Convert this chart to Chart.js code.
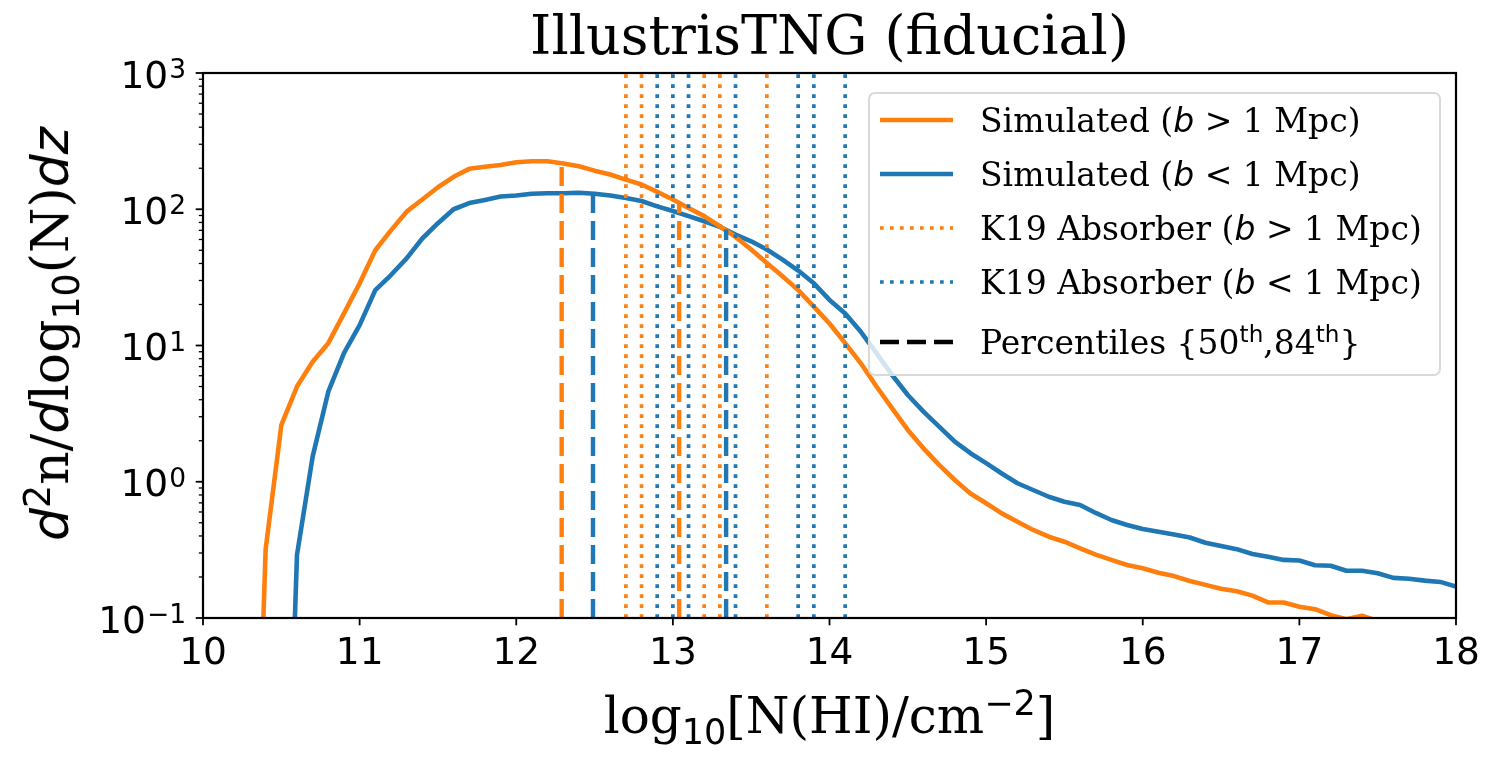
<!DOCTYPE html>
<html>
<head>
<meta charset="utf-8">
<script src="https://cdn.jsdelivr.net/npm/chart.js@4.4.1/dist/chart.umd.min.js"></script>
<style>
html,body{margin:0;padding:0;background:#fff;}
#wrap{position:relative;width:1502px;height:765px;font-family:'DejaVu Serif',serif;color:#000;overflow:hidden;}
#c{position:absolute;left:0;top:0;}
.title{position:absolute;left:203px;width:1253px;top:4px;text-align:center;font-size:54px;line-height:64px;white-space:nowrap;}
.xlab{position:absolute;left:203px;width:1253px;top:686px;text-align:center;font-size:50px;line-height:60px;white-space:nowrap;}
.ylab{position:absolute;left:50px;top:334px;transform:translate(-50%,-50%) rotate(-90deg);white-space:nowrap;font-size:52px;line-height:60px;}
.legend{position:absolute;left:868px;top:92px;width:573px;height:284px;border:2px solid #d9d9d9;border-radius:7px;background:rgba(255,255,255,0.8);box-sizing:border-box;}
.row{position:absolute;left:0;height:44px;display:flex;align-items:center;font-size:33px;white-space:nowrap;}
.row svg{margin-left:10px;margin-right:27px;flex:none;}
.m{font-family:'DejaVu Sans',sans-serif;}
sub,sup{font-size:70%;line-height:0;}
</style>
</head>
<body>
<div id="wrap">
<canvas id="c" width="1502" height="765"></canvas>
<div class="title">IllustrisTNG (fiducial)</div>
<div class="xlab">log<sub class="m">10</sub>[N(HI)/cm<sup class="m">−2</sup>]</div>
<div class="ylab"><i class="m">d</i><sup class="m">2</sup>n/<i class="m">d</i>log<sub class="m">10</sub>(N)<i class="m">dz</i></div>
<div class="legend" id="legend"></div>
</div>
<script>
// ---- data ----
const xGrid = [10.3,10.4,10.5,10.6,10.7,10.8,10.9,11.0,11.1,11.2,11.3,11.4,11.5,11.6,11.7,11.8,11.9,
  12.0,12.1,12.2,12.3,12.4,12.5,12.6,12.7,12.8,12.9,13.0,13.1,13.2,13.3,13.4,13.5,13.6,13.7,13.8,13.9,
  14.0,14.1,14.2,14.3,14.4,14.5,14.6,14.7,14.8,14.9,15.0,15.1,15.2,15.3,15.4,15.5,15.6,15.7,15.8,15.9,
  16.0,16.1,16.2,16.3,16.4,16.5,16.6,16.7,16.8,16.9,17.0,17.1,17.2,17.3,17.4,17.5,17.6,17.7,17.8,17.9,18.0];

// Simulated (b > 1 Mpc)
const simFar = [1e-4,0.32,2.6,5.0,7.6,10.4,17.2,28.6,50,70,96,118,145,173,198,205,211,
  221,225,225,217,207,192,180,165,152,134,118,102,89,75,62.6,50.6,40.4,32.2,25.5,19.3,
  14.5,10.4,7.4,5.0,3.46,2.4,1.76,1.33,1.03,0.82,0.695,0.586,0.509,0.443,0.395,0.363,0.325,0.292,0.267,0.245,
  0.232,0.215,0.203,0.187,0.175,0.164,0.157,0.146,0.13,0.13,0.121,0.116,0.105,0.098,0.104,0.095,0.092,0.09,0.087,0.085,0.083];

// Simulated (b < 1 Mpc)
const simNear = [null,null,1e-4,0.29,1.53,4.58,8.8,14.1,25.5,32.9,43.6,61,79,100,111,117,124,
  126,130,131,131,132,130,126,121,115,105,97,89,81.6,74.3,65.2,58.2,50.6,42.7,35.5,28.6,
  21.6,17.2,12.6,8.8,6.07,4.33,3.27,2.54,1.97,1.62,1.37,1.15,0.975,0.87,0.776,0.714,0.675,0.59,0.524,0.482,
  0.45,0.43,0.41,0.39,0.357,0.338,0.32,0.295,0.282,0.267,0.264,0.244,0.242,0.222,0.222,0.213,0.197,0.194,0.188,0.184,0.17];

// K19 absorbers (log10 N)
const k19Far = [12.7,12.8,13.2,13.3,13.6];
const k19Near = [12.9,13.0,13.1,13.4,13.8,13.9,14.1];

// Percentiles {50th, 84th}: positions and heights (curve value there)
const pctFarX = [12.29,13.04];
const pctFarY = [218,112];
const pctNearX = [12.49,13.34];
const pctNearY = [131,71];

const xTicks = [10,11,12,13,14,15,16,17,18];
const yMajor = [0.1,1,10,100,1000];
const yTickBase = '10';
const yTickExp = ['−1','0','1','2','3'];

const ORANGE = '#ff7f0e', BLUE = '#1f77b4';
const yMin = 0.1, yMax = 1000;
const TICK_FONT = 'DejaVu Sans';

// ---- build ----
const yTicksAll = [];
yMajor.forEach((m,i)=>{
  yTicksAll.push(m);
  if (i < yMajor.length-1) for (let k=2;k<=9;k++) yTicksAll.push(m*k);
});

function vline(x, top, color, dash, width){
  return {data:[{x:x,y:yMin},{x:x,y:top}], borderColor:color, borderWidth:width, borderDash:dash,
    pointRadius:0, clip:0, order:1, borderCapStyle:'butt', fill:false};
}
function curve(vals, color){
  return {data:xGrid.map((x,i)=>({x:x,y:vals[i]})), borderColor:color, borderWidth:4.6, pointRadius:0,
    tension:0, clip:0, order:2, spanGaps:false, fill:false, borderJoinStyle:'round'};
}

const datasets = [curve(simFar, ORANGE), curve(simNear, BLUE)];
k19Far.forEach(x=>datasets.push(vline(x, yMax, ORANGE, [3.7,6.3], 3.7)));
k19Near.forEach(x=>datasets.push(vline(x, yMax, BLUE, [3.7,6.3], 3.7)));
pctFarX.forEach((x,i)=>datasets.push(vline(x, pctFarY[i], ORANGE, [19,8], 4.4)));
pctNearX.forEach((x,i)=>datasets.push(vline(x, pctNearY[i], BLUE, [19,8], 4.4)));

const frameTicks = {
  id:'frameTicks',
  afterDraw(chart){
    const {ctx, chartArea:a, scales:{x, y}} = chart;
    ctx.save();
    ctx.strokeStyle = '#000';
    ctx.lineCap = 'butt';
    ctx.lineWidth = 1.8;
    xTicks.forEach(v=>{
      const px = x.getPixelForValue(v);
      ctx.beginPath(); ctx.moveTo(px, a.bottom); ctx.lineTo(px, a.bottom+7.3); ctx.stroke();
    });
    yTicksAll.forEach(v=>{
      const py = y.getPixelForValue(v);
      const major = yMajor.includes(v);
      ctx.lineWidth = major ? 1.8 : 1.3;
      ctx.beginPath(); ctx.moveTo(a.left, py); ctx.lineTo(a.left-(major?7.3:4.2), py); ctx.stroke();
    });
    ctx.lineWidth = 2.2;
    ctx.strokeRect(a.left, a.top, a.right-a.left, a.bottom-a.top);
    // y tick labels: 10 with raised exponent
    ctx.fillStyle = '#000';
    ctx.textBaseline = 'alphabetic';
    ctx.textAlign = 'left';
    yMajor.forEach((v,i)=>{
      const py = y.getPixelForValue(v);
      ctx.font = '37.5px "'+TICK_FONT+'"';
      const wb = ctx.measureText(yTickBase).width;
      ctx.font = '26.5px "'+TICK_FONT+'"';
      const we = ctx.measureText(yTickExp[i]).width;
      const right = a.left - 18;
      const x0 = right - wb - we;
      ctx.font = '37.5px "'+TICK_FONT+'"';
      ctx.fillText(yTickBase, x0, py + 14.5);
      ctx.font = '26.5px "'+TICK_FONT+'"';
      ctx.fillText(yTickExp[i], x0 + wb + 1, py + 5);
    });
    ctx.restore();
  }
};

new Chart(document.getElementById('c'), {
  type:'line',
  data:{datasets:datasets},
  options:{
    responsive:false, animation:false, devicePixelRatio:1,
    layout:{padding:{left:0, top:73, right:46, bottom:0}},
    plugins:{legend:{display:false}, title:{display:false}, tooltip:{enabled:false}},
    scales:{
      x:{type:'linear', min:10, max:18,
        afterBuildTicks:s=>{ s.ticks = xTicks.map(v=>({value:v})); },
        afterFit:s=>{ s.height = 147; },
        grid:{display:false, drawTicks:false}, border:{display:false},
        ticks:{padding:14, color:'#000', autoSkip:false, maxRotation:0,
          font:{family:TICK_FONT, size:37.5}, callback:v=>String(v)}},
      y:{type:'logarithmic', min:yMin, max:yMax,
        afterBuildTicks:s=>{ s.ticks = yTicksAll.map(v=>({value:v})); },
        afterFit:s=>{ s.width = 203; },
        grid:{display:false, drawTicks:false}, border:{display:false},
        ticks:{display:false}}
    }
  },
  plugins:[frameTicks]
});

// ---- legend (HTML) ----
const legendItems = [
  {html:'Simulated (<i class="m">b</i> &gt; 1 Mpc)', color:ORANGE, dash:'', w:4.6},
  {html:'Simulated (<i class="m">b</i> &lt; 1 Mpc)', color:BLUE, dash:'', w:4.6},
  {html:'K19 Absorber (<i class="m">b</i> &gt; 1 Mpc)', color:ORANGE, dash:'3.7 6.3', w:3.7},
  {html:'K19 Absorber (<i class="m">b</i> &lt; 1 Mpc)', color:BLUE, dash:'3.7 6.3', w:3.7},
  {html:'Percentiles {50<sup class="m">th</sup>,84<sup class="m">th</sup>}', color:'#000', dash:'19 8', w:4.6}
];
const rowCenters = [26,80,134,188,248];
const leg = document.getElementById('legend');
legendItems.forEach((it,i)=>{
  const r = document.createElement('div');
  r.className = 'row';
  r.style.top = (rowCenters[i]-22)+'px';
  r.innerHTML = '<svg width="73" height="10"><line x1="0" y1="5" x2="73" y2="5" stroke="'+it.color+'" stroke-width="'+it.w+'"'+
    (it.dash?' stroke-dasharray="'+it.dash+'"':'')+'/></svg><span>'+it.html+'</span>';
  leg.appendChild(r);
});
</script>
</body>
</html>
